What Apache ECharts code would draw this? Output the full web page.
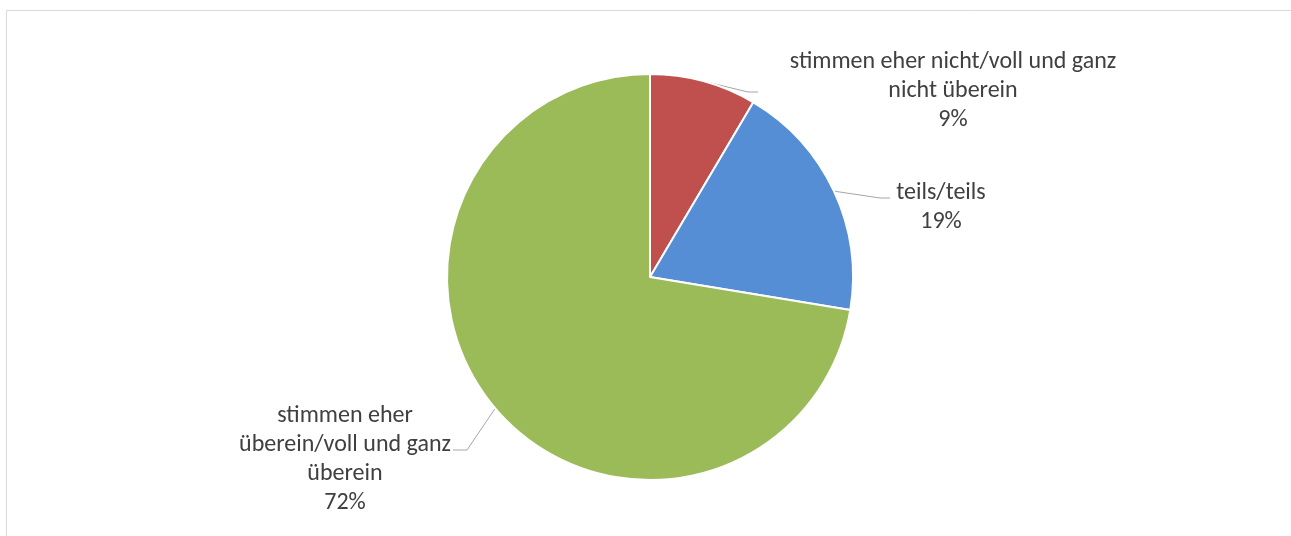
<!DOCTYPE html>
<html>
<head>
<meta charset="utf-8">
<script src="https://cdn.jsdelivr.net/npm/echarts@6/dist/echarts.min.js"></script>
<style>
  html, body { margin: 0; padding: 0; background: #fff; }
  #main { width: 1291px; height: 536px; }
</style>
</head>
<body>
<div id="main"></div>
<script>
// Anteile in Prozent, im Uhrzeigersinn ab 12 Uhr
var categories = ['stimmen eher nicht/voll und ganz nicht überein', 'teils/teils', 'stimmen eher überein/voll und ganz überein'];
var labelTexts = ['stimmen eher nicht/voll und ganz\nnicht überein', 'teils/teils', 'stimmen eher\nüberein/voll und ganz\nüberein'];
var shares = [8.5, 19.1, 72.4];
var colors = ['#c0504d', '#558ed5', '#9bbb59'];

// Lage der Beschriftungen (Mitte des Textblocks)
var labelPos = [[953, 91], [941, 207], [345, 459]];
var labelHalfWidth = [195, 51, 108];
var lineOffset = [1, -9, -9];

var chart = echarts.init(document.getElementById('main'));

var pieData = [];
for (var i = 0; i < categories.length; i++) {
  pieData.push({ name: categories[i], value: shares[i], itemStyle: { color: colors[i] } });
}

var option = {
  animation: false,
  graphic: [{
    type: 'rect',
    shape: { x: 6.5, y: 10.5, width: 1300, height: 540 },
    style: { fill: 'none', stroke: '#d9d9d9', lineWidth: 1 },
    silent: true
  }],
  series: [{
    type: 'pie',
    center: [650, 277],
    radius: 203,
    startAngle: 90,
    clockwise: true,
    data: pieData,
    itemStyle: { borderColor: '#fff', borderWidth: 2 },
    emphasis: { scale: false },
    label: {
      show: true,
      position: 'outside',
      color: '#404040',
      fontFamily: 'Carlito, Calibri, Lato, sans-serif',
      fontSize: 24,
      lineHeight: 29,
      formatter: function (p) {
        return labelTexts[p.dataIndex] + '\n' + Math.round(p.percent) + '%';
      }
    },
    labelLine: {
      show: true,
      lineStyle: { color: '#a6a6a6', width: 1 }
    },
    labelLayout: function (params) {
      var i = params.dataIndex;
      var p = labelPos[i];
      var onLeft = p[0] < 650;
      var endX = onLeft ? p[0] + labelHalfWidth[i] : p[0] - labelHalfWidth[i];
      var endY = p[1] + lineOffset[i];
      var elbowX = onLeft ? endX + 14 : endX - 10;
      var pts = params.labelLinePoints;
      var res = { x: p[0], y: p[1], align: 'center', verticalAlign: 'middle' };
      if (pts) {
        res.labelLinePoints = [pts[0], [elbowX, endY], [endX, endY]];
      }
      return res;
    }
  }]
};

chart.setOption(option);
window.addEventListener('resize', chart.resize);
</script>
</body>
</html>
